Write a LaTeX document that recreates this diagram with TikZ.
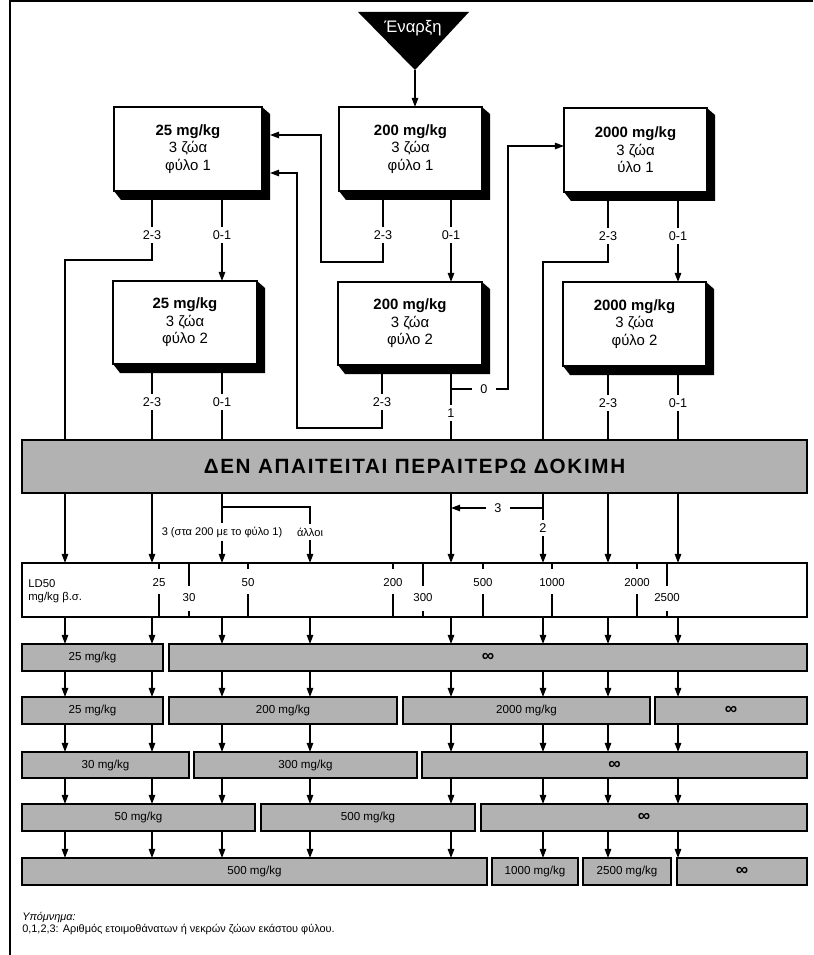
\documentclass[tikz,border=0pt]{standalone}
\usepackage{fontspec}
\setmainfont{Liberation Sans}
\newfontfamily\bannerfont[LetterSpace=8]{Liberation Sans}
\usetikzlibrary{arrows.meta}
\definecolor{halftone}{gray}{0.7}

\tikzset{
  link/.style={line width=1.2pt},
  arr/.style={link,-{Triangle[length=6.8pt,width=4.8pt]}},
  dosebox/.style={draw,line width=1.2pt,fill=white,align=center,inner sep=0pt,outer sep=0pt,
    font=\fontsize{11.2}{13.2}\selectfont},
  cnt/.style={inner sep=2.5pt,font=\fontsize{9.5}{11}\selectfont},
  banner/.style={draw,line width=1.3pt,fill=halftone,inner sep=0pt,outer sep=0pt,
    font=\fontsize{15.5}{18}\bannerfont\bfseries},
  rowbox/.style={draw,line width=1.3pt,fill=halftone,inner sep=0pt,outer sep=0pt,
    font=\fontsize{8.7}{10}\selectfont},
  tick/.style={inner sep=0pt,font=\fontsize{8.6}{10}\selectfont},
}

% dose box with a solid extruded shadow: name, x0, x1, y0, y1, text
\newcommand\dosenode[6]{%
  \pgfmathsetmacro\myBW{(#3-#2)*0.75}%
  \pgfmathsetmacro\myBH{(#5-#4)*0.75}%
  \node[dosebox,minimum width=\myBW pt,minimum height=\myBH pt] (#1) at ({(#2+#3)/2},{(#4+#5)/2}) {#6};
  \fill (#1.north east) -- ++(8,7) -- ([shift={(8,9)}]#1.south east)
     -- ([shift={(7,9)}]#1.south west) -- (#1.south west) -- (#1.south east) -- cycle;}

% grey result box: name, x0, x1, y0, y1, text
\newcommand\rownode[6]{%
  \pgfmathsetmacro\myBW{(#3-#2)*0.75}%
  \pgfmathsetmacro\myBH{(#5-#4)*0.75}%
  \node[rowbox,minimum width=\myBW pt,minimum height=\myBH pt] (#1) at ({(#2+#3)/2},{(#4+#5)/2}) {#6};}
\newcommand\infsign{\textbf{\fontsize{13}{13}\selectfont ∞}}

\begin{document}
\begin{tikzpicture}[x=0.75pt,y=-0.75pt]
\useasboundingbox (0,0) rectangle (813,955);

% frame
\draw[line width=1.2pt] (813,1) -- (10,1) -- (10,955);

% columns of the flow below the banner
\coordinate (k1) at (65,0);
\coordinate (k2) at (152,0);
\coordinate (k3) at (222,0);
\coordinate (k4) at (310,0);
\coordinate (k5) at (451,0);
\coordinate (k6) at (543,0);
\coordinate (k7) at (608,0);
\coordinate (k8) at (678,0);

% start
\coordinate (apex) at (415,70);
\fill (358,12) -- (469,12) -- (apex) -- cycle;
\node[text=white,font=\fontsize{12.5}{14}\selectfont] (startlbl) at (413,28) {Έναρξη};

% dose boxes
\dosenode{a25}{114}{262}{107}{191}{\textbf{25 mg/kg}\\3 ζώα\\φύλο 1}
\dosenode{a200}{339}{482}{107}{191}{\textbf{200 mg/kg}\\3 ζώα\\φύλο 1}
\dosenode{a2000}{564}{707}{108}{192}{\textbf{2000 mg/kg}\\3 ζώα\\ύλο 1}
\dosenode{b25}{113}{257}{281}{364}{\textbf{25 mg/kg}\\3 ζώα\\φύλο 2}
\dosenode{b200}{338}{482}{282}{365}{\textbf{200 mg/kg}\\3 ζώα\\φύλο 2}
\dosenode{b2000}{563}{706}{282}{366}{\textbf{2000 mg/kg}\\3 ζώα\\φύλο 2}

% outcome counts
\node[cnt] (a25d) at (152,235) {2-3};
\node[cnt] (a25s) at (222,235) {0-1};
\node[cnt] (a200d) at (383,235) {2-3};
\node[cnt] (a200s) at (451,235) {0-1};
\node[cnt] (a2000d) at (608,236) {2-3};
\node[cnt] (a2000s) at (678,236) {0-1};
\node[cnt] (b25d) at (152,402) {2-3};
\node[cnt] (b25s) at (222,402) {0-1};
\node[cnt] (b200d) at (382,402) {2-3};
\node[cnt,inner xsep=6pt] (b200z) at (484,389) {0};
\node[cnt] (b200o) at (451,413) {1};
\node[cnt] (b2000d) at (608,403) {2-3};
\node[cnt] (b2000s) at (678,403) {0-1};

% banner
\node[banner,minimum width=588.75pt,minimum height=39.75pt] (ban) at (414.5,466.5)
  {ΔΕΝ ΑΠΑΙΤΕΙΤΑΙ ΠΕΡΑΙΤΕΡΩ ΔΟΚΙΜΗ};

% connectors between the dose boxes
\draw[arr] (apex) -- (apex |- a200.north);
\draw[link] (a25.south -| a25d) -- (a25d.north);
\draw[link] (a25d.south) |- (65,260) -- (ban.north -| k1);
\draw[link] (a25.south -| a25s) -- (a25s.north);
\draw[arr] (a25s.south) -- (a25s.south |- b25.north);
\coordinate (in1) at (270,135);
\coordinate (in2) at (270,173);
\draw[link] (a200.south -| a200d) -- (a200d.north);
\draw[arr] (a200d.south) |- (321,262) |- (in1);
\draw[link] (a200.south -| a200s) -- (a200s.north);
\draw[arr] (a200s.south) -- (a200s.south |- b200.north);
\draw[link] (a2000.south -| a2000d) -- (a2000d.north);
\draw[link] (a2000d.south) |- (543,262) -- (ban.north -| k6);
\draw[link] (a2000.south -| a2000s) -- (a2000s.north);
\draw[arr] (a2000s.south) -- (a2000s.south |- b2000.north);

\draw[link] (b25.south -| b25d) -- (b25d.north);
\draw[link] (b25d.south) -- (ban.north -| b25d);
\draw[link] (b25.south -| b25s) -- (b25s.north);
\draw[link] (b25s.south) -- (ban.north -| b25s);
\draw[link] (b200.south -| b200d) -- (b200d.north);
\draw[arr] (b200d.south) |- (297,428) |- (in2);
\coordinate (j0) at (451,389);
\draw[link] (b200.south -| j0) -- (j0) -- (b200z.west);
\draw[arr] (b200z.east) -| (508,146) -- ([yshift=3pt]a2000.west);
\draw[link] (j0) -- (b200o.north);
\draw[link] (b200o.south) -- (ban.north -| b200o);
\draw[link] (b2000.south -| b2000d) -- (b2000d.north);
\draw[link] (b2000d.south) -- (ban.north -| b2000d);
\draw[link] (b2000.south -| b2000s) -- (b2000s.north);
\draw[link] (b2000s.south) -- (ban.north -| b2000s);

% LD50 scale
\node[draw,line width=1.3pt,fill=white,inner sep=0pt,outer sep=0pt,
  minimum width=588.75pt,minimum height=40.5pt] (ld) at (414.5,590) {};
\node[anchor=west,align=left,inner sep=0pt,font=\fontsize{8.5}{9.8}\selectfont] (ldname) at (28,591)
  {LD50\\mg/kg β.σ.};
\foreach \v/\x in {25/159,50/248,200/393,500/483,1000/552,2000/637}{
  \node[tick] (t\v) at (\x,583) {\v};
  \draw[line width=1.2pt] (ld.north -| t\v) -- ++(0,6);
  \draw[line width=1.2pt] (ld.south -| t\v) -- ++(0,-23);
}
\foreach \v/\x in {30/189,300/423,2500/667}{
  \node[tick] (t\v) at (\x,598) {\v};
  \draw[line width=1.2pt] (ld.north -| t\v) -- ++(0,23);
  \draw[line width=1.2pt] (ld.south -| t\v) -- ++(0,-6);
}

% below the banner
\node[cnt,font=\fontsize{8.3}{10}\selectfont] (three) at (222,532) {3 (στα 200 με το φύλο 1)};
\node[cnt,font=\fontsize{8.3}{10}\selectfont] (oth) at (310,532) {άλλοι};
\node[cnt] (two) at (543,528) {2};
\node[cnt,inner xsep=6pt] (thr) at (498,508) {3};
\coordinate (j3) at (222,507);
\coordinate (j6) at (543,508);
\foreach \k in {k1,k2,k5,k7,k8}{
  \draw[arr] (ban.south -| \k) -- (ld.north -| \k);
}
\draw[link] (ban.south -| k3) -- (j3) -| (oth.north);
\draw[link] (j3) -- (three.north);
\draw[arr] (three.south) -- (ld.north -| three);
\draw[arr] (oth.south) -- (ld.north -| oth);
\draw[link] (ban.south -| k6) -- (j6) -- (two.north);
\draw[arr] (two.south) -- (ld.north -| two);
\draw[link] (j6) -- (thr.east);
\draw[arr] (thr.west) -- (j6 -| k5);

% result rows
\rownode{r1a}{22}{163}{644}{671}{25 mg/kg}
\rownode{r1b}{169}{807}{644}{671}{\infsign}
\rownode{r2a}{22}{163}{697}{724}{25 mg/kg}
\rownode{r2b}{169}{397}{697}{724}{200 mg/kg}
\rownode{r2c}{403}{650}{697}{724}{2000 mg/kg}
\rownode{r2d}{655}{807}{697}{724}{\infsign}
\rownode{r3a}{22}{189}{752}{778}{30 mg/kg}
\rownode{r3b}{194}{417}{752}{778}{300 mg/kg}
\rownode{r3c}{422}{807}{752}{778}{\infsign}
\rownode{r4a}{22}{255}{804}{831}{50 mg/kg}
\rownode{r4b}{261}{475}{804}{831}{500 mg/kg}
\rownode{r4c}{481}{807}{804}{831}{\infsign}
\rownode{r5a}{22}{487}{858}{885}{500 mg/kg}
\rownode{r5b}{492}{578}{858}{885}{1000 mg/kg}
\rownode{r5c}{583}{671}{858}{885}{2500 mg/kg}
\rownode{r5d}{677}{807}{858}{885}{\infsign}

\foreach \k in {k1,k2,k3,k4,k5,k6,k7,k8}{
  \draw[arr] (ld.south -| \k) -- (r1a.north -| \k);
  \draw[arr] (r1a.south -| \k) -- (r2a.north -| \k);
  \draw[arr] (r2a.south -| \k) -- (r3a.north -| \k);
  \draw[arr] (r3a.south -| \k) -- (r4a.north -| \k);
  \draw[arr] (r4a.south -| \k) -- (r5a.north -| \k);
}

% legend
\node[anchor=west,inner sep=0pt,font=\fontsize{8.2}{9}\selectfont\itshape] (legtitle) at (22,918) {Υπόμνημα:};
\node[anchor=west,inner sep=0pt,font=\fontsize{8.2}{9}\selectfont] (legtext) at (22,930)
  {0,1,2,3: Αριθμός ετοιμοθάνατων ή νεκρών ζώων εκάστου φύλου.};
\end{tikzpicture}
\end{document}
